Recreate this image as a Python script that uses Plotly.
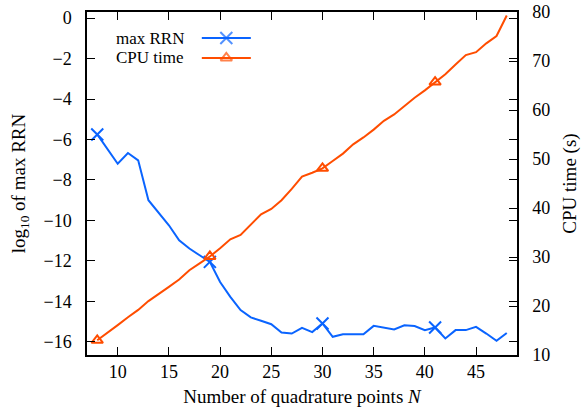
import plotly.graph_objects as go

N = list(range(8, 49))
max_rrn = [-5.75, -6.5, -7.2, -6.67, -7.03, -9.0, -9.62, -10.24, -10.98, -11.39, -11.72, -12.05,
           -13.04, -13.78, -14.43, -14.79, -14.96, -15.13, -15.54, -15.59, -15.31, -15.52, -15.09,
           -15.75, -15.63, -15.63, -15.63, -15.21, -15.3, -15.39, -15.18, -15.22, -15.42, -15.29,
           -15.83, -15.42, -15.42, -15.26, -15.59, -15.95, -15.56]
cpu_time = [13.0, 14.5, 16.1, 17.7, 19.2, 21.0, 22.4, 23.9, 25.4, 27.3, 28.7, 30.1,
            31.8, 33.6, 34.5, 36.7, 38.7, 39.8, 41.6, 43.9, 46.4, 47.2, 48.1,
            49.6, 51.1, 53.0, 54.4, 56.0, 57.8, 59.1, 60.8, 62.5, 64.0, 65.7,
            67.3, 69.3, 71.2, 71.8, 73.6, 75.1, 79.3]
marker_N = [8, 19, 30, 41]
names = ["max RRN", "CPU time"]

BLUE = "#0a64ff"
ORANGE = "#ff4d00"
FONT = "Liberation Serif, DejaVu Serif, serif"

rrn_marks = [max_rrn[N.index(n)] for n in marker_N]
cpu_marks = [cpu_time[N.index(n)] for n in marker_N]

fig = go.Figure()
fig.add_trace(go.Scatter(x=N, y=max_rrn, mode="lines", line=dict(color=BLUE, width=2),
                         showlegend=False, hoverinfo="skip"))
fig.add_trace(go.Scatter(x=marker_N, y=rrn_marks, mode="markers",
                         marker=dict(symbol="x-thin-open", size=12, color=BLUE, line=dict(color=BLUE, width=2)),
                         showlegend=False))
fig.add_trace(go.Scatter(x=N, y=cpu_time, mode="lines", line=dict(color=ORANGE, width=2),
                         yaxis="y2", showlegend=False, hoverinfo="skip"))
fig.add_trace(go.Scatter(x=marker_N, y=cpu_marks, mode="markers", yaxis="y2",
                         marker=dict(symbol="triangle-up-open", size=10, color=ORANGE, line=dict(color=ORANGE, width=2)),
                         showlegend=False))

# custom legend samples (line with marker in the middle), drawn on an overlay axis in [0,1]
leg_x = [0.267, 0.324, 0.381]
leg_y = [0.924, 0.866]
fig.add_trace(go.Scatter(x=leg_x, y=[leg_y[0]] * 3, mode="lines+markers", xaxis="x3", yaxis="y3",
                         line=dict(color=BLUE, width=2),
                         marker=dict(symbol="x-thin-open", size=[0, 12, 0], color=BLUE, line=dict(color=BLUE, width=2)),
                         showlegend=False, hoverinfo="skip"))
fig.add_trace(go.Scatter(x=leg_x, y=[leg_y[1]] * 3, mode="lines+markers", xaxis="x3", yaxis="y3",
                         line=dict(color=ORANGE, width=2),
                         marker=dict(symbol="triangle-up-open", size=[0, 10, 0], color=ORANGE, line=dict(color=ORANGE, width=2)),
                         showlegend=False, hoverinfo="skip"))
for nm, yy in zip(names, leg_y):
    fig.add_annotation(text=nm, x=0.228, y=yy, xref="paper", yref="paper", xanchor="right",
                       yanchor="middle", showarrow=False, borderpad=0,
                       font=dict(family=FONT, size=17, color="black"))

axis_common = dict(showline=True, linecolor="black", linewidth=1.5, ticks="inside", ticklen=8,
                   tickcolor="black", tickwidth=1.2, showgrid=False, zeroline=False, automargin=False,
                   ticklabeloverflow="allow", tickfont=dict(family=FONT, size=18, color="black"))

fig.update_layout(
    width=584, height=410,
    margin=dict(l=87, r=67, t=12, b=55, autoexpand=False),
    paper_bgcolor="white", plot_bgcolor="white",
    font=dict(family=FONT, size=18, color="black"),
    xaxis=dict(range=[7, 49], tickvals=[10, 15, 20, 25, 30, 35, 40, 45], mirror="ticks", ticklabelstandoff=0,
               title=dict(text="Number of quadrature points <i>N</i>", font=dict(family=FONT, size=19), standoff=8),
               **axis_common),
    yaxis=dict(range=[-16.65, 0.3], tickvals=list(range(-16, 1, 2)), mirror="ticks", ticklabelstandoff=10,
               title=dict(text="log<sub>10</sub> of max RRN", font=dict(family=FONT, size=19), standoff=13),
               **axis_common),
    yaxis2=dict(range=[10, 80], tickvals=list(range(10, 81, 10)), overlaying="y", side="right",
                ticklabelstandoff=10,
                title=dict(text="CPU time (s)", font=dict(family=FONT, size=19), standoff=13),
                **axis_common),
    xaxis3=dict(range=[0, 1], overlaying="x", visible=False, fixedrange=True),
    yaxis3=dict(range=[0, 1], overlaying="y", visible=False, fixedrange=True),
)

# remove the browser's default 8px body margin so the 584x410 figure fills the window exactly
fig.write_html("out.html", config={"displayModeBar": False},
               post_script="document.body.style.margin='0';")
